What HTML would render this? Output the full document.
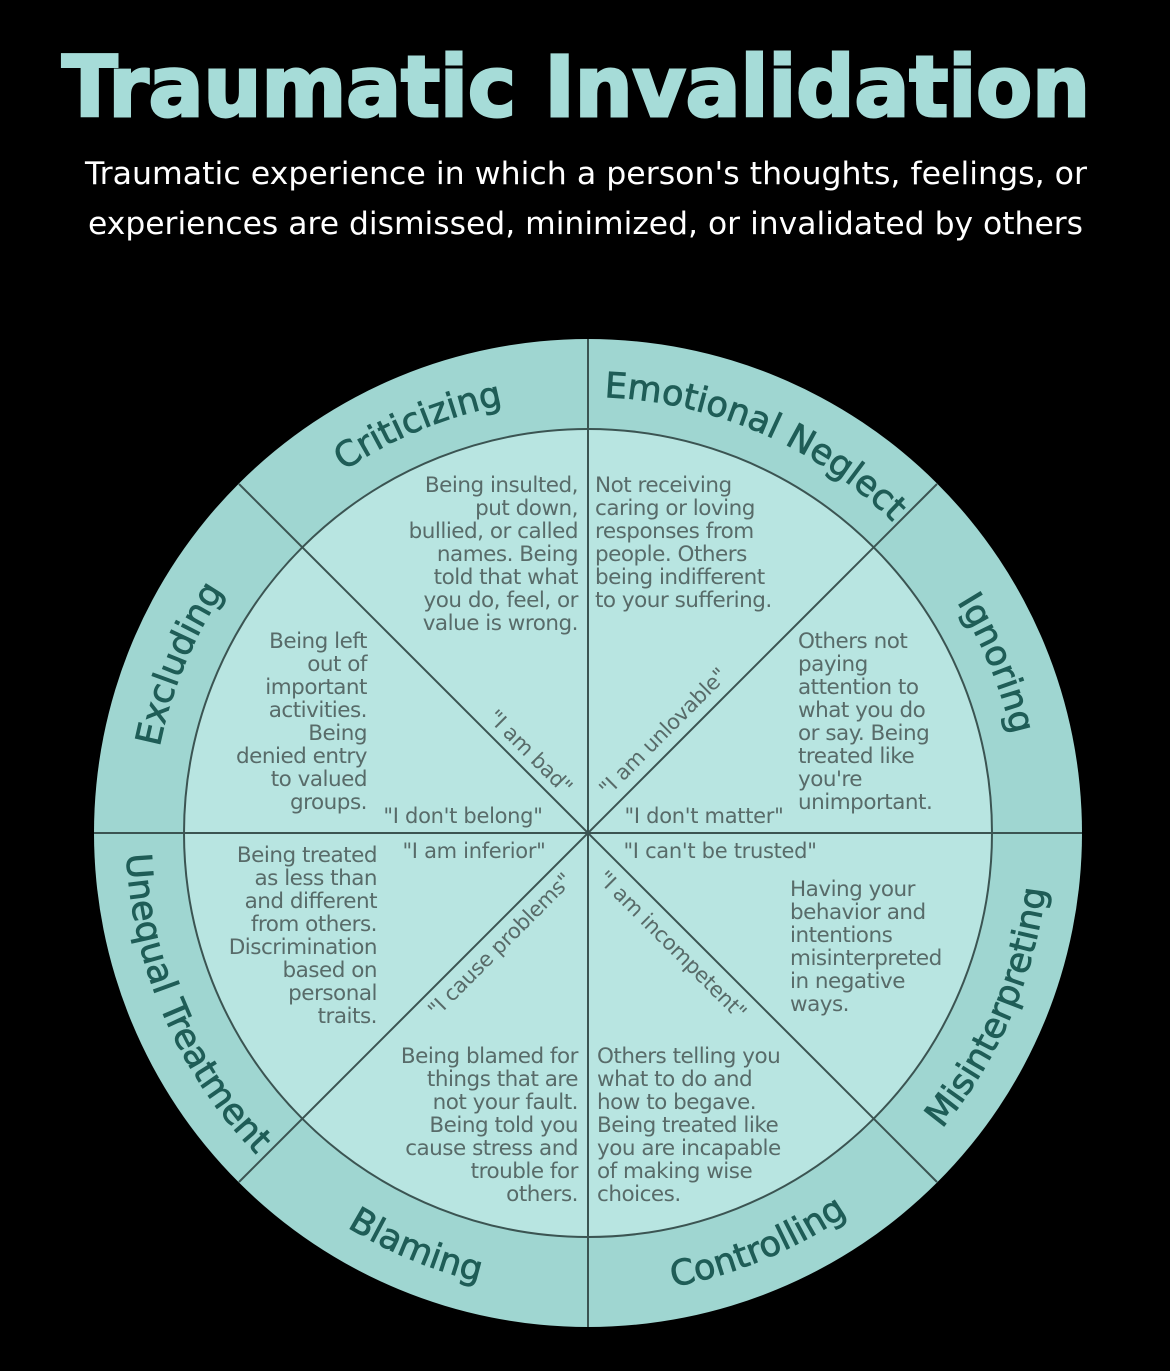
<!DOCTYPE html>
<html><head><meta charset="utf-8"><style>
html,body{margin:0;padding:0;background:#000;}
svg{display:block;}
.b{font-family:"DejaVu Sans","Liberation Sans",sans-serif;font-size:21.5px;fill:#586b69;letter-spacing:-0.5px;}
.q{font-family:"DejaVu Sans","Liberation Sans",sans-serif;font-size:21px;fill:#586b69;letter-spacing:-0.3px;}
.lab{font-family:"DejaVu Sans","Liberation Sans",sans-serif;font-size:35px;fill:#1f5d57;stroke:#1f5d57;stroke-width:0.8px;}
</style></head><body>
<svg width="1170" height="1371" viewBox="0 0 1170 1371" xmlns="http://www.w3.org/2000/svg">
<rect width="1170" height="1371" fill="#000"/>
<text x="62" y="116" textLength="1028" lengthAdjust="spacingAndGlyphs" font-family="DejaVu Sans" font-weight="bold" font-size="84" fill="#a6dcd8" stroke="#a6dcd8" stroke-width="3">Traumatic Invalidation</text>
<text x="85" y="184" textLength="1002" lengthAdjust="spacingAndGlyphs" font-family="DejaVu Sans" font-size="31" fill="#fff">Traumatic experience in which a person's thoughts, feelings, or</text>
<text x="88" y="234" textLength="995" lengthAdjust="spacingAndGlyphs" font-family="DejaVu Sans" font-size="31" fill="#fff">experiences are dismissed, minimized, or invalidated by others</text>
<defs>
<path id="cw" d="M 151 833 A 436 436 0 1 1 1023 833 A 436 436 0 1 1 151 833"/>
<path id="ccw" d="M 126 833 A 461 461 0 1 0 1049 833 A 461 461 0 1 0 126 833"/>
</defs>
<circle cx="588" cy="833" r="494" fill="#9fd6d1"/>
<circle cx="588" cy="833" r="404" fill="#b8e5e1" stroke="#3b5452" stroke-width="2"/>
<g stroke="#3b5452" stroke-width="2">
<line x1="588" y1="339" x2="588" y2="1327"/>
<line x1="94" y1="833" x2="1082" y2="833"/>
<line x1="239" y1="484" x2="937" y2="1182"/>
<line x1="937" y1="484" x2="239" y2="1182"/>
</g>
<text class="lab"><textPath href="#cw" startOffset="18.75%" text-anchor="middle">Criticizing</textPath></text>
<text class="lab"><textPath href="#cw" startOffset="31.5%" text-anchor="middle">Emotional Neglect</textPath></text>
<text class="lab"><textPath href="#cw" startOffset="43.75%" text-anchor="middle">Ignoring</textPath></text>
<text class="lab"><textPath href="#cw" startOffset="6.25%" text-anchor="middle">Excluding</textPath></text>
<text class="lab"><textPath href="#ccw" startOffset="6.5%" text-anchor="middle">Unequal Treatment</textPath></text>
<text class="lab"><textPath href="#ccw" startOffset="18.75%" text-anchor="middle">Blaming</textPath></text>
<text class="lab"><textPath href="#ccw" startOffset="31.25%" text-anchor="middle">Controlling</textPath></text>
<text class="lab"><textPath href="#ccw" startOffset="43.5%" text-anchor="middle">Misinterpreting</textPath></text>

<g class="b" text-anchor="end">
<text x="578" y="492">Being insulted,</text><text x="578" y="515">put down,</text><text x="578" y="538">bullied, or called</text><text x="578" y="561">names. Being</text><text x="578" y="584">told that what</text><text x="578" y="607">you do, feel, or</text><text x="578" y="630">value is wrong.</text>
</g>
<g class="b">
<text x="595" y="492">Not receiving</text><text x="595" y="515">caring or loving</text><text x="595" y="538">responses from</text><text x="595" y="561">people. Others</text><text x="595" y="584">being indifferent</text><text x="595" y="607">to your suffering.</text>
</g>
<g class="b" text-anchor="end">
<text x="367" y="648">Being left</text><text x="367" y="671">out of</text><text x="367" y="694">important</text><text x="367" y="717">activities.</text><text x="367" y="740">Being</text><text x="367" y="763">denied entry</text><text x="367" y="786">to valued</text><text x="367" y="809">groups.</text>
</g>
<g class="b">
<text x="798" y="648">Others not</text><text x="798" y="671">paying</text><text x="798" y="694">attention to</text><text x="798" y="717">what you do</text><text x="798" y="740">or say. Being</text><text x="798" y="763">treated like</text><text x="798" y="786">you're</text><text x="798" y="809">unimportant.</text>
</g>
<g class="b" text-anchor="end">
<text x="377" y="862">Being treated</text><text x="377" y="885">as less than</text><text x="377" y="908">and different</text><text x="377" y="931">from others.</text><text x="377" y="954">Discrimination</text><text x="377" y="977">based on</text><text x="377" y="1000">personal</text><text x="377" y="1023">traits.</text>
</g>
<g class="b">
<text x="790" y="896">Having your</text><text x="790" y="919">behavior and</text><text x="790" y="942">intentions</text><text x="790" y="965">misinterpreted</text><text x="790" y="988">in negative</text><text x="790" y="1011">ways.</text>
</g>
<g class="b" text-anchor="end">
<text x="578" y="1063">Being blamed for</text><text x="578" y="1086">things that are</text><text x="578" y="1109">not your fault.</text><text x="578" y="1132">Being told you</text><text x="578" y="1155">cause stress and</text><text x="578" y="1178">trouble for</text><text x="578" y="1201">others.</text>
</g>
<g class="b">
<text x="597" y="1063">Others telling you</text><text x="597" y="1086">what to do and</text><text x="597" y="1109">how to begave.</text><text x="597" y="1132">Being treated like</text><text x="597" y="1155">you are incapable</text><text x="597" y="1178">of making wise</text><text x="597" y="1201">choices.</text>
</g>

<g class="q" text-anchor="middle">
<text x="463" y="823">"I don't belong"</text>
<text x="704" y="823">"I don't matter"</text>
<text x="474" y="858">"I am inferior"</text>
<text x="720" y="858">"I can't be trusted"</text>
<text transform="translate(530,752) rotate(45)" y="7">"I am bad"</text>
<text transform="translate(663,732) rotate(-45)" y="7">"I am unlovable"</text>
<text transform="translate(500,945) rotate(-45)" y="7">"I cause problems"</text>
<text transform="translate(672,945) rotate(45)" y="7">"I am incompetent"</text>
</g>
</svg>
</body></html>
